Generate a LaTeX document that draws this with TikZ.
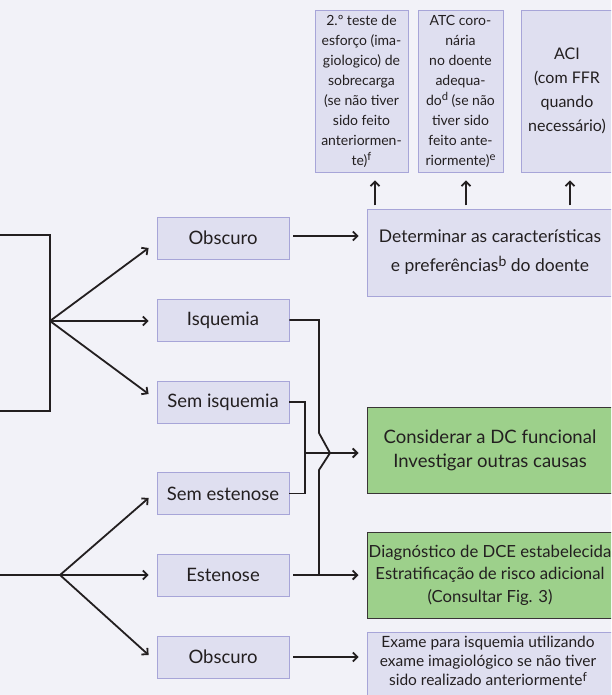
\documentclass[tikz,border=0pt]{standalone}
\usepackage{fontspec}
\setmainfont{Lato}
\usetikzlibrary{arrows.meta,calc}
\definecolor{bgcol}{HTML}{F2F2F8}
\definecolor{boxfill}{HTML}{DFDFF0}
\definecolor{boxline}{HTML}{A7A5D8}
\definecolor{greenfill}{HTML}{9DD08B}
\definecolor{ink}{HTML}{231F20}
% footnote marks, set a little larger than \textsuperscript
\newcommand{\fnmark}[1]{\raisebox{0.6ex}{\scalebox{0.8}{#1}}}
\begin{document}
\begin{tikzpicture}[x=1pt,y=-1pt,
  box/.style={draw=boxline, fill=boxfill, line width=0.8pt, inner sep=0pt,
    align=center, text=ink, font=\fontsize{18.5}{22}\selectfont},
  smallbox/.style={box, minimum width=132pt, minimum height=42pt},
  topbox/.style={box, minimum height=162pt, font=\fontsize{14}{20}\selectfont},
  greenbox/.style={draw=ink!90, fill=greenfill, line width=1pt, inner sep=0pt,
    align=center, text=ink, minimum width=246pt, minimum height=86pt},
  conn/.style={draw=ink, line width=1.8pt},
  arr/.style={conn, -{Straight Barb[length=4.5pt,width=9pt]}}]

\useasboundingbox (0,0) rectangle (611,695);
\fill[bgcol] (0,0) rectangle (611,695);
\clip (0,0) rectangle (611,695);

% upper row of option boxes
\node[topbox, minimum width=93pt] (t1) at (361.5,91)
  {2.º teste de\\esforço (ima-\\giologico) de\\sobrecarga\\(se não tiver\\sido feito\\anteriormen-\\te)\fnmark{f}};
\node[topbox, minimum width=85pt] (t2) at (460.5,91)
  {ATC coro-\\nária\\no doente\\adequa-\\do\fnmark{d} (se não\\tiver sido\\feito ante-\\riormente)\fnmark{e}};
\node[topbox, minimum width=92pt, font=\fontsize{16}{24}\selectfont] (t3) at (567,91)
  {ACI\\(com FFR\\quando\\necessário)};

% decision box
\node[box, minimum width=246pt, minimum height=87pt, font=\fontsize{17.5}{29}\selectfont] (det) at (490,252.5)
  {Determinar as características\\e preferências\fnmark{b} do doente};

% result boxes
\node[smallbox] (ob1) at (223,238) {Obscuro};
\node[smallbox] (isq) at (223,320) {Isquemia};
\node[smallbox] (sisq) at (223,402) {Sem isquemia};
\node[smallbox] (sest) at (223,493.5) {Sem estenose};
\node[smallbox] (est) at (223,575) {Estenose};
\node[smallbox] (ob2) at (223,657) {Obscuro};

% outcome boxes
\node[greenbox, font=\fontsize{18.5}{24}\selectfont] (g1) at (490,450.5)
  {Considerar a DC funcional\\Investigar outras causas};
\node[greenbox, font=\fontsize{16.7}{22.5}\selectfont] (g2) at (490,575)
  {Diagnóstico de DCE estabelecida\\Estratificação de risco adicional\\(Consultar Fig. 3)};
\node[box, minimum width=246pt, minimum height=80pt, anchor=north] (ex) at (490,632) {};
\node[text=ink, align=center, font=\fontsize{15.5}{19}\selectfont, anchor=north] (extxt) at (488,633)
  {Exame para isquemia utilizando\\exame imagiológico se não tiver\\sido realizado anteriormente\fnmark{f}};

% incoming brackets on the left edge
\coordinate (a1) at (0,235);
\coordinate (a2) at (0,411);
\coordinate (fa) at (50,321);
\coordinate (b1) at (0,575);
\coordinate (fb) at (60,575);
\draw[conn] (a1) -- (a1 -| fa) -- (a2 -| fa) -- (a2);
\draw[conn] (b1) -- (fb);

% fans into the result boxes
\draw[arr] (fa) -- ($(ob1.west)+(-8,10)$);
\draw[arr] (fa) -- ($(isq.west)+(-8,1)$);
\draw[arr] (fa) -- ($(sisq.west)+(-8,-8)$);
\draw[arr] (fb) -- ($(sest.west)+(-8,4.5)$);
\draw[arr] (fb) -- ($(est.west)+(-8,0)$);
\draw[arr] (fb) -- ($(ob2.west)+(-8,-2)$);

% unclear result -> patient characteristics
\draw[arr] ($(ob1.east)+(4,-2)$) -- ($(det.west |- ob1)+(-8,-2)$);

% patient characteristics -> options
\draw[arr] ($(t1.south)+(13.5,33)$) -- ($(t1.south)+(13.5,8)$);
\draw[arr] ($(t2.south)+(5.5,33)$) -- ($(t2.south)+(5.5,8)$);
\draw[arr] ($(t3.south)+(3,33)$) -- ($(t3.south)+(3,8)$);

% no ischaemia / no stenosis -> functional disease
\coordinate (j1) at (305,453);
\draw[conn] (sisq.east) -- (sisq.east -| j1) -- (sest.east -| j1) -- (sest.east);
\draw[arr] (j1) -- ($(g1.west |- j1)+(-8,0)$);

% ischaemia and stenosis -> established disease (hop over the junction)
\coordinate (j2) at (319,575);
\draw[conn] (isq.east) -- (isq.east -| j2) -- (319,433) -- (330,453) -- (319,470) -- (j2);
\draw[arr] ($(est.east)+(4,0)$) -- ($(g2.west |- est)+(-8,0)$);

% unclear anatomy -> ischaemia testing
\draw[arr] ($(ob2.east)+(4,0)$) -- ($(ex.west |- ob2)+(-8,0)$);
\end{tikzpicture}
\end{document}
